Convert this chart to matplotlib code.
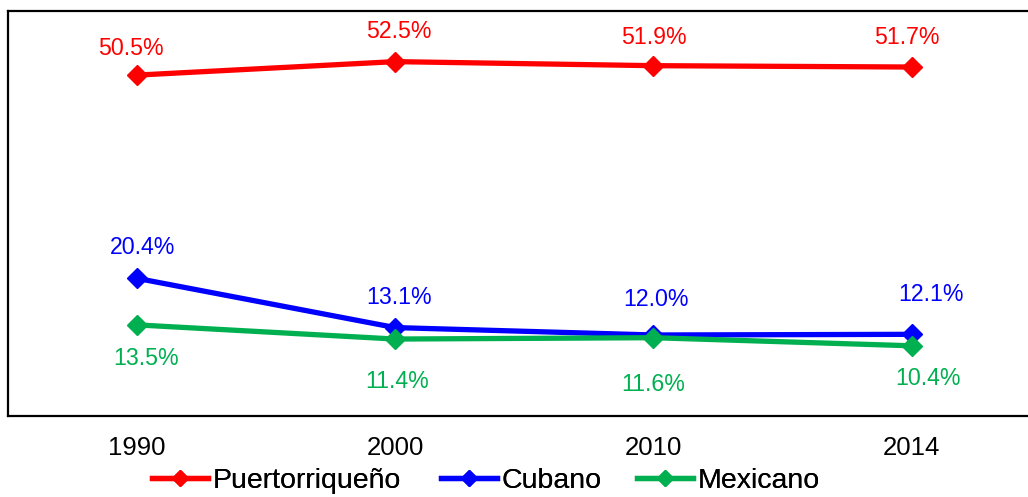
import matplotlib
matplotlib.use("Agg")
import matplotlib.pyplot as plt
from matplotlib.lines import Line2D

plt.rcParams['font.family'] = ['Liberation Sans', 'DejaVu Sans']

years = ["1990", "2000", "2010", "2014"]
puertorriqueno = [50.5, 52.5, 51.9, 51.7]
cubano = [20.4, 13.1, 12.0, 12.1]
mexicano = [13.5, 11.4, 11.6, 10.4]
series_names = ["Puertorriqueño", "Cubano", "Mexicano"]

colors = ["#FF0000", "#0000FF", "#00B050"]
# label offsets in pixels (dx, dy) relative to the marker; dy positive = up
label_offsets = [
    [(-6, 27), (4, 30), (0, 28), (-4.5, 30)],
    [(6, 31), (4, 30), (2.5, 36), (19, 40)],
    [(9, -34), (2, -42), (0, -47), (16, -33)],
]
# legend entry left edges (pixels)
legend_x = [152, 441, 637]

W, H = 1028, 497
fig = plt.figure(figsize=(W / 100, H / 100), dpi=100)
ax_left, ax_right = 7.5, 1041
ax_top, ax_bottom = 11, 416
ax = fig.add_axes([ax_left / W, 1 - ax_bottom / H, (ax_right - ax_left) / W, (ax_bottom - ax_top) / H])

x = list(range(len(years)))
all_series = [puertorriqueno, cubano, mexicano]
px2pt = 72 / 100
for vals, col, name, offs in zip(all_series, colors, series_names, label_offsets):
    ax.plot(x, vals, color=col, lw=3.8, marker='D', markersize=10, label=name,
            solid_capstyle='butt', clip_on=False)
    for xi, v, (dx, dy) in zip(x, vals, offs):
        ax.annotate(f"{v:.1f}%", (xi, v), xytext=(dx * px2pt, dy * px2pt),
                    textcoords='offset points', ha='center', va='center',
                    color=col, fontsize=16.7)

ax.set_xlim(-0.5, len(years) - 0.5)
ax.set_ylim(0, 60)
ax.set_xticks(x)
ax.set_xticklabels(years, fontsize=18.5)
ax.set_yticks([])
ax.tick_params(axis='x', length=0, pad=14.5)
for s in ['left', 'top', 'bottom']:
    ax.spines[s].set_linewidth(1.6)
    ax.spines[s].set_color('black')
ax.spines['right'].set_visible(False)

for c, name, lx in zip(colors, series_names, legend_x):
    h = Line2D([], [], color=c, lw=3.8, marker='D', markersize=8)
    leg = fig.legend([h], [name], loc='center left', bbox_to_anchor=(lx / W, 1 - 480.5 / H),
                     frameon=False, fontsize=20.5, handlelength=1.95, handletextpad=0.17,
                     borderaxespad=0, borderpad=0)
    fig.add_artist(leg)

fig.savefig("out.png", dpi=100)
